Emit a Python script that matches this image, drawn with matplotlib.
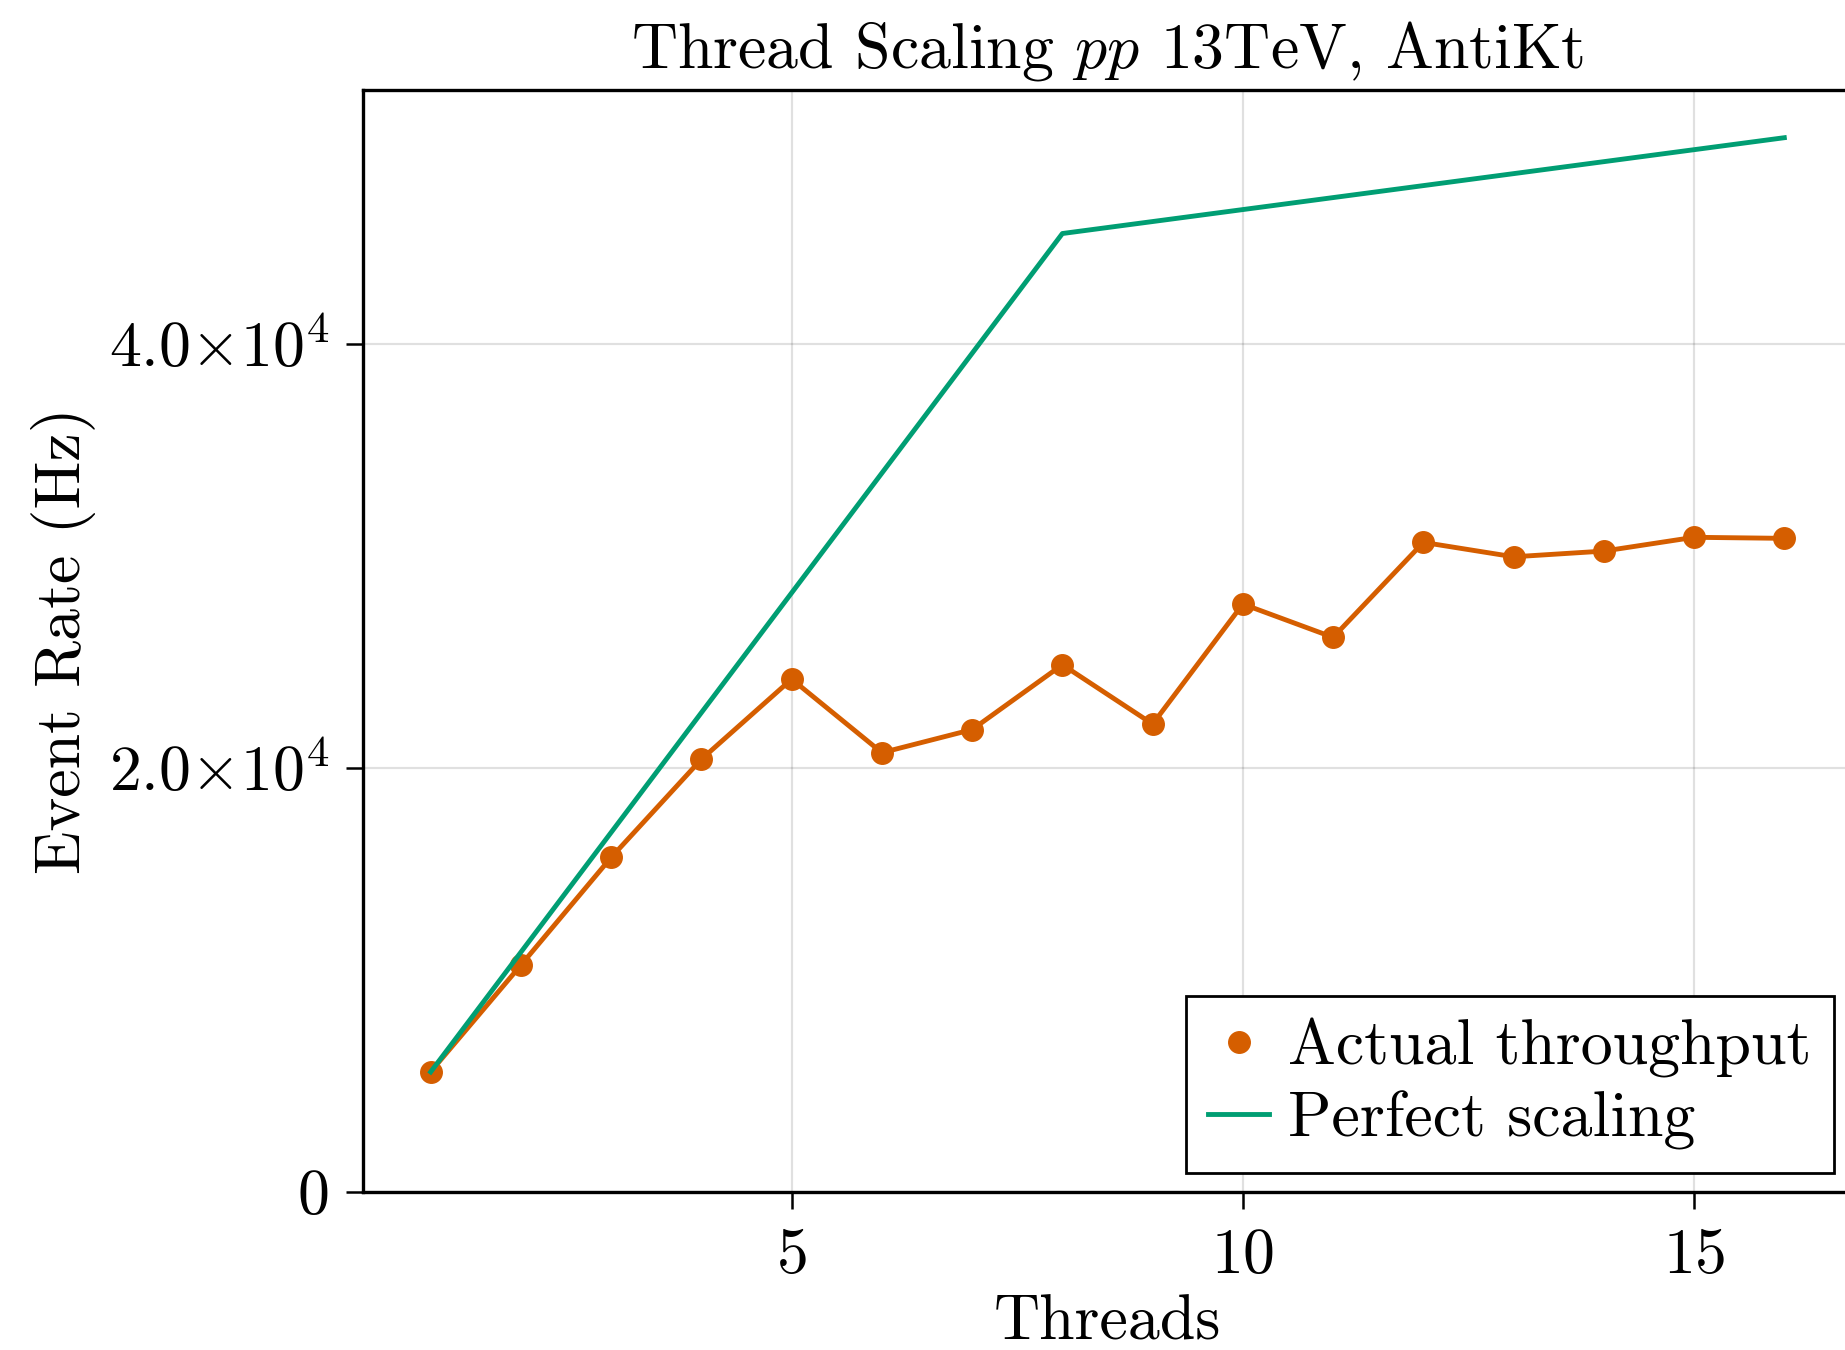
import matplotlib
matplotlib.use("Agg")
import matplotlib.pyplot as plt

plt.rcParams["font.family"] = "cmr10"
plt.rcParams["mathtext.fontset"] = "cm"
plt.rcParams["axes.formatter.use_mathtext"] = True

# measured event rates per thread count
threads = [1, 2, 3, 4, 5, 6, 7, 8, 9, 10, 11, 12, 13, 14, 15, 16]
actual_rate = [5660, 10690, 15770, 20400, 24180, 20710, 21800, 24860,
               22060, 27720, 26150, 30630, 29950, 30220, 30870, 30820]

# ideal scaling: linear up to the physical cores, then a shallower slope
perfect_threads = [1, 8, 16]
perfect_rate = [5650, 45200, 49720]

y_ticks = [0, 20000, 40000]
y_ticklabels = ["0", r"$2.0{\times}10^{4}$", r"$4.0{\times}10^{4}$"]
x_ticks = [5, 10, 15]

orange = "#D55E00"
green = "#009E73"
fs = 46

fig = plt.figure(figsize=(18.45, 13.5), dpi=100)
ax = fig.add_axes([0.19675, 0.11726, 0.80705, 0.81607])

ax.plot(threads, actual_rate, color=orange, lw=3.5, zorder=3)
ax.plot(threads, actual_rate, "o", ls="none", color=orange, ms=15.5,
        label="Actual throughput", zorder=4)
ax.plot(perfect_threads, perfect_rate, color=green, lw=3.5,
        label="Perfect scaling", zorder=5)

ax.set_xlim(0.25, 16.75)
ax.set_ylim(0, 51970)
ax.set_xticks(x_ticks)
ax.set_yticks(y_ticks)
ax.set_yticklabels(y_ticklabels)

ax.grid(True, color="black", alpha=0.12, lw=1.6)
ax.set_axisbelow(True)
for side in ax.spines.values():
    side.set_linewidth(2.4)
ax.tick_params(direction="out", length=12, width=1.8, labelsize=fs)
ax.tick_params(axis="x", pad=14)
ax.tick_params(axis="y", pad=12)

ax.set_title(r"Thread Scaling $pp$ 13TeV, AntiKt", fontsize=46, pad=16)
ax.set_xlabel("Threads", fontsize=fs, labelpad=6)
ax.set_ylabel("Event Rate (Hz)", fontsize=fs, labelpad=9)

leg = ax.legend(loc="lower right", bbox_to_anchor=(0.99404, 0.13133),
                bbox_transform=fig.transFigure, fontsize=fs,
                fancybox=False, framealpha=1, edgecolor="black",
                handlelength=0.95, handletextpad=0.3, borderpad=0.35,
                labelspacing=0.2, borderaxespad=0)
leg.get_frame().set_linewidth(2.0)

fig.savefig("out.png", dpi=100)
